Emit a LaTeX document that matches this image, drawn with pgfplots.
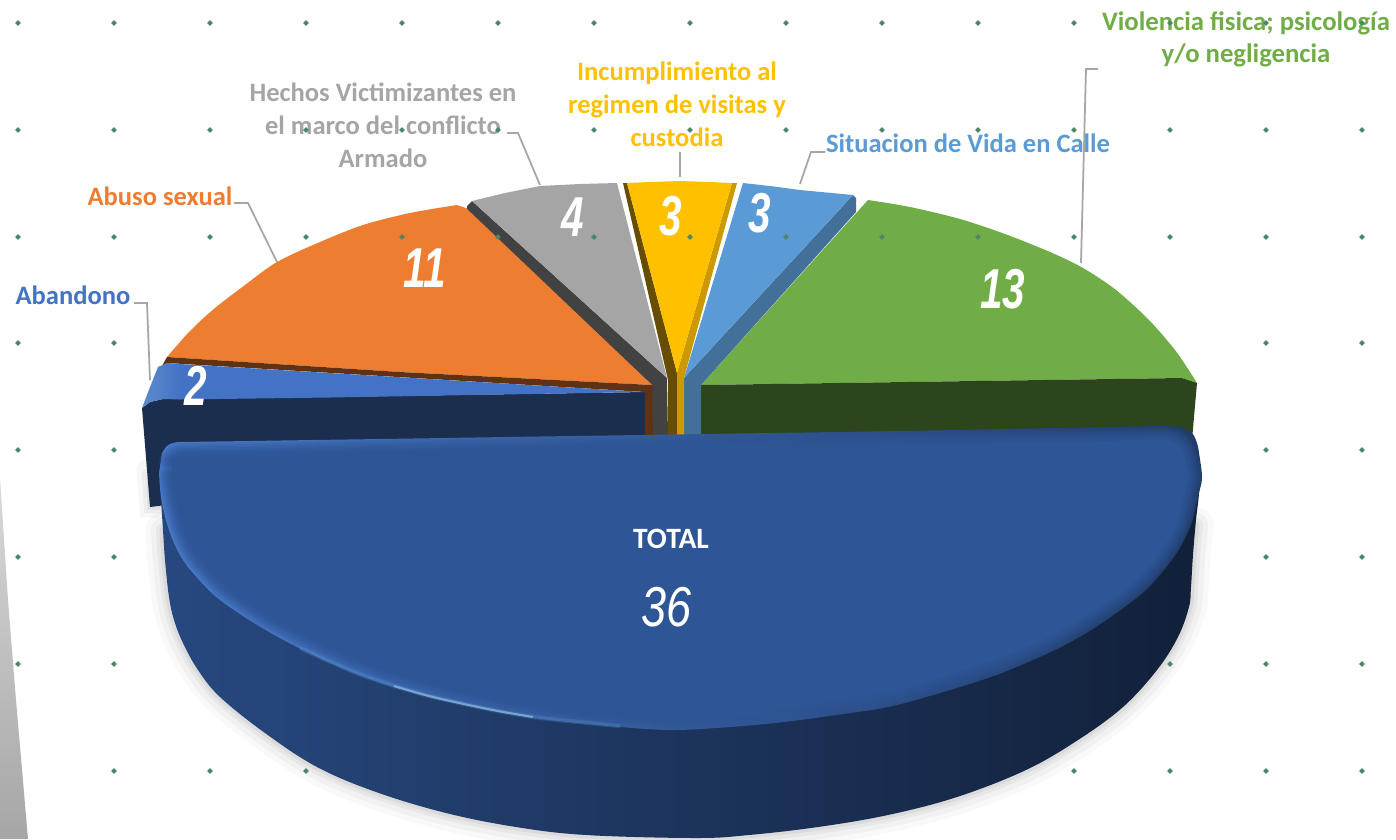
\documentclass[border=0pt]{standalone}
\usepackage{fontspec}
\usepackage{pgfplots}
\usepackage{pgfplotstable}
\pgfplotsset{compat=1.18}
\setmainfont{Carlito}
\newfontfamily\valfont{Liberation Sans}
\definecolor{cAb}{HTML}{4472C4}
\definecolor{cAs}{HTML}{ED7D31}
\definecolor{cHe}{HTML}{A5A5A5}
\definecolor{cIn}{HTML}{FFC000}
\definecolor{cSi}{HTML}{5B9BD5}
\definecolor{cVi}{HTML}{70AD47}
\definecolor{cTo}{HTML}{2E5596}
\definecolor{leader}{HTML}{A6A6A6}
\definecolor{dots}{HTML}{4F8468}
% polygons, in pixels of the picture
\pgfplotstableread{
x y
162 453
167 446
173 443
180 442
195 441.8
215 441.5
250 441
300 440.2
400 438.7
520 436.8
640 435
770 433
900 431
1030 428.5
1090 427.3
1125 426.6
1145 426.2
1160 426
1171 426
1183 428
1192 433
1197 443
1199 453
1202 477
1199 493
1195 511
1189 530
1178 551
1164 570
1148 588
1130 603
1096 627
1061 647
1026 663
991 677
940 693
888 707
836 715
784 722
730 727
673 730
620 727
568 722
533 718
498 712
464 705
429 697
394 687
359 675
324 660
289 643
254 623
220 600
202 583
185 563
174 543
166 520
161 497
159 473
}\faceT
\pgfplotstableread{
x y
172 462
176 458
182 456
195 455.8
215 455.5
250 455
300 454.2
400 452.7
520 450.8
640 449
770 447
900 445
1030 442.5
1090 441.3
1125 440.6
1145 440.2
1158 440
1170 441
1180 447
1185 460
1188 477
1185 490
1181 507
1176 524
1166 543
1153 561
1138 578
1121 592
1088 614
1054 634
1020 650
986 663
936 679
885 693
834 701
783 708
730 713
673 716
621 713
570 708
535 704
501 698
468 691
434 683
399 673
365 661
331 647
297 630
262 611
229 588
212 572
197 554
187 536
180 515
175 495
172 475
}\faceI
\pgfplotstableread{
x y
1199 470
1199 493
1196 520
1193 555
1191 587
1189 607
1178 637
1157 670
1123 707
1078 740
1026 770
957 797
888 815
818 827
749 835
696 838
586 835
516 827
446 813
376 792
317 767
265 733
220 697
198 670
183 643
174 620
169 597
165 560
163 530
161 497
161 470
}\sideT
\pgfplotstableread{
x y
1196 525
1193 555
1191 587
1189 607
1178 637
1157 670
1123 707
1078 740
1026 770
957 797
888 815
818 827
749 835
696 838
586 835
516 827
446 813
376 792
317 767
265 733
220 697
198 670
183 643
174 620
169 597
165 560
163 530
}\shadowT
\pgfplotstableread{
x y
142 408
150 402
163 399
330 397
645 392
645 436
400 480
166 505
150 507
142 408
}\sideAb
\begin{document}
\begin{tikzpicture}
\begin{axis}[
  scale only axis, width=13.96cm, height=8.39cm,
  xmin=0, xmax=1396, ymin=0, ymax=839, y dir=reverse,
  hide axis, clip=true]
% page
\addplot[fill=white, draw=none] coordinates {(0,0)(1396,0)(1396,839)(0,839)(0,0)};
% stone strip
\addplot[draw=none, top color=black!15, bottom color=black!35] coordinates {(0,478)(8,600)(16,700)(28,839)(0,839)(0,478)};
% dots
\addplot[only marks, mark=*, mark size=0.55pt, color=dots] table {
18 23
114 23
210 23
306 23
402 23
498 23
594 23
690 23
786 23
882 23
978 23
1074 23
1170 23
1266 23
1362 23
18 130
114 130
210 130
306 130
402 130
498 130
594 130
690 130
786 130
882 130
978 130
1074 130
1170 130
1266 130
1362 130
18 237
114 237
210 237
306 237
402 237
498 237
594 237
690 237
786 237
882 237
978 237
1074 237
1170 237
1266 237
1362 237
18 343
114 343
1266 343
1362 343
18 450
114 450
1266 450
1362 450
18 557
114 557
1266 557
1362 557
18 664
114 664
1170 664
1266 664
1362 664
114 771
210 771
306 771
1074 771
1170 771
1266 771
1362 771
};
% leader lines
\addplot[leader, line width=0.5pt] coordinates {(134,303)(147,303)(150,380)};
\addplot[leader, line width=0.5pt] coordinates {(234,203)(248,203)(277,262)};
\addplot[leader, line width=0.5pt] coordinates {(507,133)(518,133)(540,185)};
\addplot[leader, line width=0.5pt] coordinates {(680,152)(680,177)};
\addplot[leader, line width=0.5pt] coordinates {(825,152)(811,152)(800,184)};
\addplot[leader, line width=0.5pt] coordinates {(1098,69)(1086,69)(1081,263)};
% green slice
\addplot[draw=none, fill=cVi] coordinates {(701,385)(868,200)(1000,250)(1120,310)(1197,383)(1182,378)(701,385)};
\addplot[draw=none, fill=cVi, smooth, tension=.5] coordinates {(868,200)(910,207)(960,219)(1005,234)(1050,252)(1083,268)(1116,290)(1149,320)(1175,350)(1190,372)(1197,383)};
\addplot[draw=none, fill=cVi!40!black] coordinates {(701,385)(1182,378)(1197,383)(1192,440)(701,440)(701,385)};
% light blue slice
\addplot[draw=none, fill=cSi!72!black] coordinates {(853,195)(856,198)(856,212)(701,385)(701,436)(684,436)(684,378)(853,195)};
\addplot[draw=none, fill=cSi] coordinates {(743,183)(770,186)(800,190)(853,195)(684,378)(743,183)};
% yellow slice
\addplot[draw=none, fill=cIn!40!black] coordinates {(623,183)(627,183)(677,373)(677,436)(668,436)(668,380)(623,183)};
\addplot[draw=none, fill=cIn!80!black] coordinates {(732,183)(737,183)(684,378)(684,436)(677,436)(677,373)(732,183)};
\addplot[draw=none, fill=cIn] coordinates {(627,183)(650,182)(680,181)(710,182)(732,183)(677,373)(627,183)};
% grey slice
\addplot[draw=none, fill=cHe!40!black] coordinates {(467,206)(472,201)(667,378)(668,436)(652,436)(652,385)(467,213)(467,206)};
\addplot[draw=none, fill=cHe] coordinates {(472,201)(505,193)(540,186)(580,184)(617,183)(667,378)(472,201)};
% orange slice
\addplot[draw=none, fill=cAs] coordinates {(167,357)(300,280)(457,205)(466,208)(652,385)(400,372)(167,357)};
\addplot[draw=none, fill=cAs, smooth, tension=.5] coordinates {(167,357)(190,331)(215,308)(245,285)(277,262)(320,242)(363,225)(410,213)(457,205)};
\addplot[draw=none, fill=cAs!40!black] coordinates {(167,357)(400,372)(652,385)(653,436)(645,436)(645,392)(167,363)(162,366)(167,357)};
% Abandono slice
\addplot[draw=black, opacity=.03, line width=6pt, line cap=round] coordinates {(147,470)(150,507)(175,509)};
\addplot[draw=black, opacity=.04, line width=3.5pt, line cap=round] coordinates {(148,475)(150,507)(175,508)};
\addplot[draw=black, opacity=.05, line width=1.5pt, line cap=round] coordinates {(149,480)(150,507)(175,507)};
\addplot[draw=none, fill=cAb!40!black] table {\sideAb};
\addplot[draw=none, fill=cAb] coordinates {(180,364)(645,392)(330,397.5)(180,399.5)(180,364)};
\addplot[draw=none, left color=cAb!70!cSi!90!white, right color=cAb] coordinates {(142,408)(150,387)(158,367)(167,363)(181,364)(181,399.5)(163,399)(150,402)(142,408)};
% main slice: soft shadow
\addplot[draw=black, opacity=.025, line width=10pt, line cap=round, line join=round, smooth] table {\shadowT};
\addplot[draw=black, opacity=.03, line width=7pt, line cap=round, line join=round, smooth] table {\shadowT};
\addplot[draw=black, opacity=.04, line width=4pt, line cap=round, line join=round, smooth] table {\shadowT};
\addplot[draw=black, opacity=.05, line width=2pt, line cap=round, line join=round, smooth] table {\shadowT};
% main slice: side
\addplot[draw=none, smooth, tension=.6, left color=cTo!85!black, middle color=cTo!55!black, right color=cTo!38!black] table {\sideT};
% main slice: top, with its bevel
\addplot[draw=none, smooth, tension=.6, left color=cAb!85!cSi, middle color=cTo, right color=cTo!70!black] table {\faceT};
\addplot[draw=cTo, opacity=.18, line width=7.4pt, line cap=round, line join=round, smooth, tension=.6] table {\faceI};
\addplot[draw=cTo, opacity=.20, line width=6.4pt, line cap=round, line join=round, smooth, tension=.6] table {\faceI};
\addplot[draw=cTo, opacity=.22, line width=5.4pt, line cap=round, line join=round, smooth, tension=.6] table {\faceI};
\addplot[draw=cTo, opacity=.25, line width=4.4pt, line cap=round, line join=round, smooth, tension=.6] table {\faceI};
\addplot[draw=cTo, opacity=.30, line width=3.4pt, line cap=round, line join=round, smooth, tension=.6] table {\faceI};
\addplot[draw=cTo, opacity=.35, line width=2.4pt, line cap=round, line join=round, smooth, tension=.6] table {\faceI};
\addplot[draw=cTo, opacity=.45, line width=1.4pt, line cap=round, line join=round, smooth, tension=.6] table {\faceI};
\addplot[draw=none, fill=cTo, smooth, tension=.6] table {\faceI};
% highlight
\addplot[draw=cSi, opacity=.25, line width=1.2pt, smooth] coordinates {(300,648)(324,659)(359,674)(394,686)(429,696)(464,704)(498,711)(533,717)(568,721)(620,726)};
\addplot[draw=cSi!60!white, opacity=.6, line width=.6pt, smooth] coordinates {(394,686)(429,696)(464,704)(498,711)(533,717)};
% labels
\tikzset{lab/.style={align=center, font=\fontsize{7.55}{9.4}\selectfont\bfseries}}
\node[lab, text=cAb] at (axis cs:73,295) {Abandono};
\node[lab, text=cAs] at (axis cs:160,196) {Abuso sexual};
\node[lab, text=cHe] at (axis cs:383,125) {Hechos Victimizantes en\\el marco del conflicto\\Armado};
\node[lab, text=cIn] at (axis cs:677,104) {Incumplimiento al\\regimen de visitas y\\custodia};
\node[lab, text=cSi] at (axis cs:968,143) {Situacion de Vida en Calle};
\node[align=center, font=\fontsize{7.6}{8.9}\selectfont\bfseries, text=cVi] at (axis cs:1246,39.5) {Violencia fisica; psicología\\y/o negligencia};
\node[text=white, font=\fontsize{8.4}{10}\selectfont\bfseries] at (axis cs:671,539) {TOTAL};
% values
\tikzset{val/.style={text=white, font=\valfont\fontsize{16}{18}\selectfont\bfseries\itshape}}
\node[val] at (axis cs:196,386) {\scalebox{.72}[1]{2}};
\node[val] at (axis cs:425,268) {\scalebox{.72}[1]{11}};
\node[val] at (axis cs:573,217) {\scalebox{.72}[1]{4}};
\node[val] at (axis cs:671,216) {\scalebox{.72}[1]{3}};
\node[val] at (axis cs:760,213) {\scalebox{.72}[1]{3}};
\node[val] at (axis cs:1003,289) {\scalebox{.72}[1]{13}};
\node[text=white, font=\valfont\fontsize{16}{18}\selectfont\itshape] at (axis cs:667,607) {\scalebox{.8}[1]{36}};
\end{axis}
\end{tikzpicture}
\end{document}
